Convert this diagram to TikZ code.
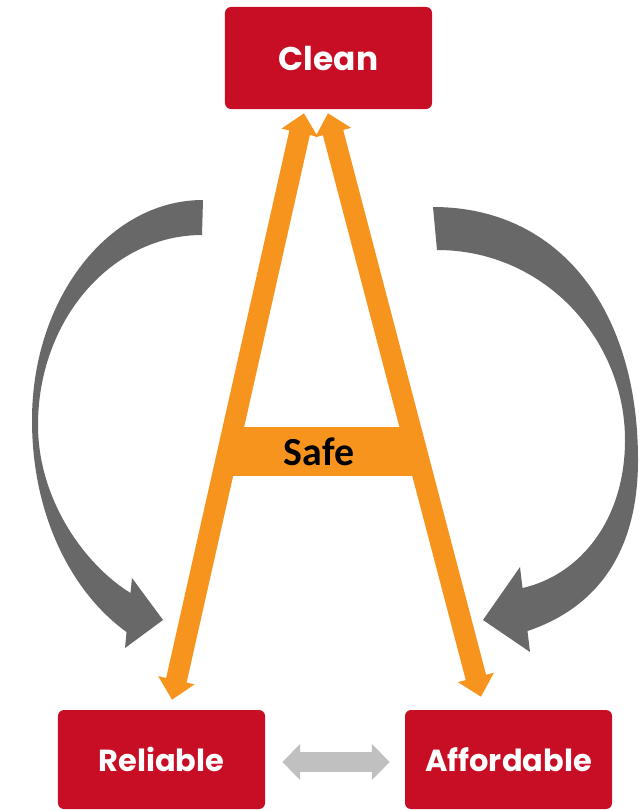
\documentclass[tikz,border=0pt]{standalone}
\usepackage{fontspec}
\usetikzlibrary{arrows.meta,calc}
\newfontfamily\boxfont{Poppins}
\newfontfamily\safefont{Carlito}
\definecolor{boxred}{RGB}{200,14,36}
\definecolor{legorange}{RGB}{247,148,30}
\definecolor{arcgrey}{RGB}{104,104,104}
\definecolor{pairgrey}{RGB}{192,192,192}
\tikzset{
  redbox/.style={rectangle, rounded corners=0.18cm, fill=boxred, text=white, inner sep=0pt,
    minimum width=6.21cm, minimum height=2.97cm, font=\boxfont\bfseries\fontsize{26}{30}\selectfont},
  leg/.style={draw=legorange, line width=0.63cm,
    {Triangle[width=1.08cm,length=0.6cm]}-{Triangle[width=1.08cm,length=0.6cm]}},
  pair/.style={draw=pairgrey, line width=0.6cm,
    {Triangle[width=1.05cm,length=0.54cm]}-{Triangle[width=1.05cm,length=0.54cm]}}
}

\begin{document}
\begin{tikzpicture}[x=0.03cm, y=-0.03cm]
\useasboundingbox (0,0) rectangle (639,811);

% Boxes
\node[redbox, minimum height=3.06cm, font=\boxfont\bfseries\fontsize{28}{32}\selectfont] (clean) at (328.5,58) {Clean};
\node[redbox] (reliable) at (161.5,759.5) {Reliable};
\node[redbox] (affordable) at (508.5,759.5) {Affordable};

% Grey cycle arrows
\fill[arcgrey] (203,200) -- (202,235)
  .. controls (111.5,235) and (38,320) .. (38,425)
  .. controls (38,500) and (85,565) .. (130.5,593)
  -- (132,578) -- (163,620) -- (125,648) -- (126.5,632)
  .. controls (75,595) and (32,520) .. (32,420)
  .. controls (32,298.6) and (108.6,200) .. (203,200) -- cycle;
\fill[arcgrey] (433,207)
  .. controls (560,207) and (638,310) .. (638,460)
  .. controls (638,560) and (590,610) .. (527.5,631)
  -- (530,652) -- (483,620) -- (520,567) -- (522.5,588)
  .. controls (580,575) and (625,520) .. (625,440)
  .. controls (625,340) and (545,250) .. (437,250) -- cycle;

% Crossbar
\node[fill=legorange, inner sep=0pt, minimum width=5.7cm, minimum height=1.47cm,
  font=\safefont\bfseries\fontsize{34}{36}\selectfont] (safe) at (319,451.5) {Safe};

% Legs of the A
\coordinate (cleanL) at ($(clean.south)+(-24.5,4)$);
\coordinate (cleanR) at ($(clean.south)+(-0.5,4)$);
\coordinate (relTop) at ($(reliable.north)+(10.5,-10)$);
\coordinate (affTop) at ($(affordable.north)+(-27.5,-13)$);
\draw[leg] (relTop) -- (cleanL);
\draw[leg] (affTop) -- (cleanR);

% Reliable <-> Affordable
\coordinate (pairL) at ($(reliable.east)+(17,2.5)$);
\coordinate (pairR) at ($(affordable.west)+(-15,2.5)$);
\draw[pair] (pairL) -- (pairR);
\end{tikzpicture}
\end{document}
